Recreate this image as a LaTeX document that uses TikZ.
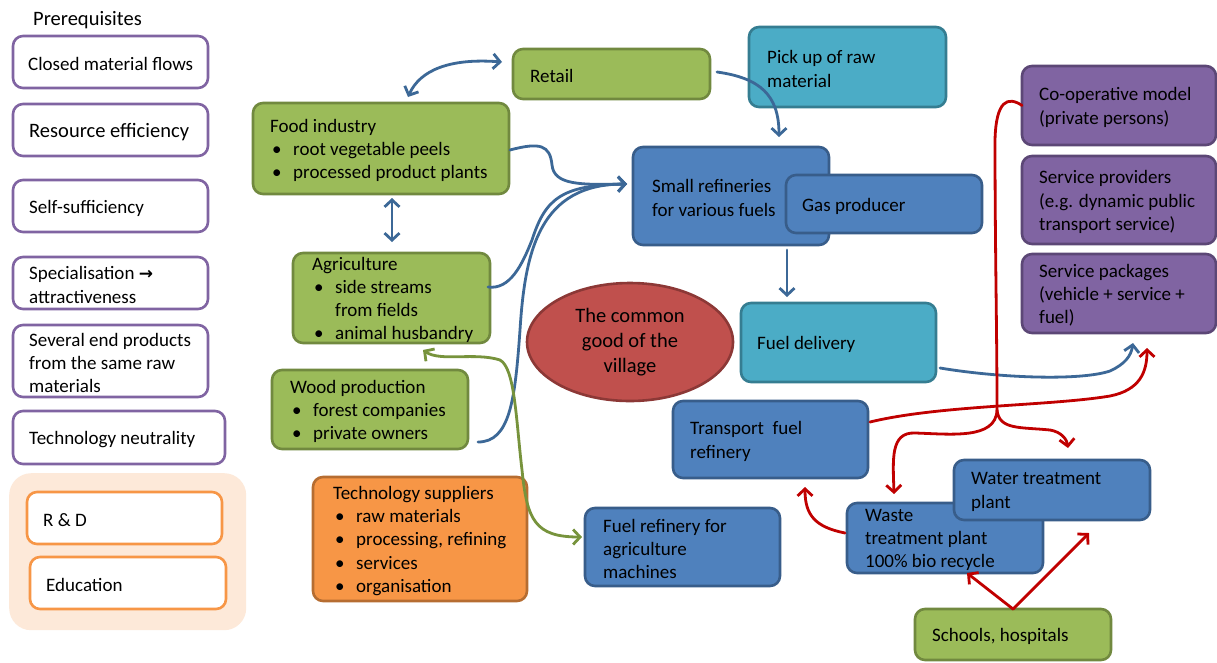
\documentclass[tikz,border=0pt]{standalone}
\usepackage{fontspec}
\setmainfont{Carlito}
\newfontfamily\djv{DejaVu Sans}
\usetikzlibrary{arrows.meta,calc,shapes.geometric}
\definecolor{pu}{HTML}{8064A2}
\definecolor{puD}{HTML}{5C4776}
\definecolor{gr}{HTML}{9BBB59}
\definecolor{grD}{HTML}{71893F}
\definecolor{te}{HTML}{4BACC6}
\definecolor{teD}{HTML}{357D91}
\definecolor{bl}{HTML}{4F81BD}
\definecolor{blD}{HTML}{385D8A}
\definecolor{ellF}{HTML}{C0504D}
\definecolor{ellD}{HTML}{8C3836}
\definecolor{orF}{HTML}{F79646}
\definecolor{orD}{HTML}{B66D31}
\definecolor{pe}{HTML}{FDE9D9}
\definecolor{cBlue}{HTML}{3C6897}
\definecolor{cRed}{HTML}{C00000}
\definecolor{cGreen}{HTML}{77933C}
\newcommand{\bitem}{\hspace*{2pt}\makebox[21pt][l]{\textbullet}}
\begin{document}
\begin{tikzpicture}[x=1pt,y=-1pt,
  every node/.style={font=\fontsize{19}{23.2}\selectfont},
  boxbase/.style={line width=2.6pt, rounded corners=10pt, anchor=north west, inner sep=0pt, outer sep=0pt},
  pbox/.style={boxbase, draw=pu, fill=white},
  obox/.style={boxbase, draw=orF, fill=white},
  gbox/.style={boxbase, draw=grD, fill=gr},
  tbox/.style={boxbase, draw=teD, fill=te},
  bbox/.style={boxbase, draw=blD, fill=bl},
  vbox/.style={boxbase, draw=puD, fill=pu},
  orbox/.style={boxbase, draw=orD, fill=orF},
  lbl/.style={anchor=west, align=left, inner sep=0pt, text=black, yshift=-2pt},
  big/.style={font=\fontsize{20.5}{25}\selectfont},
  >={Straight Barb[length=7pt,width=15pt]},
  lineB/.style={draw=cBlue, line width=2.8pt, line cap=round},
  lineR/.style={draw=cRed, line width=2.8pt, line cap=round},
  lineG/.style={draw=cGreen, line width=2.8pt, line cap=round}]
\useasboundingbox (0,0) rectangle (1217,662);
\fill[white] (0,0) rectangle (1217,662);

% left column
\node[lbl, big] (prq) at (33,18) {Prerequisites};
\node[pbox, minimum width=195pt, minimum height=52pt] (cmf) at (13,36) {};
\node[lbl] (cmf-t) at ($(cmf.west)+(15,0)$) {Closed material flows};
\node[pbox, minimum width=195pt, minimum height=52pt] (re) at (13,104) {};
\node[lbl, big] (re-t) at ($(re.west)+(16,0)$) {Resource efficiency};
\node[pbox, minimum width=195pt, minimum height=52pt] (ss) at (13,180) {};
\node[lbl] (ss-t) at ($(ss.west)+(16,0)$) {Self-sufficiency};
\node[pbox, minimum width=195pt, minimum height=52pt] (spec) at (13,257) {};
\node[lbl] (spec-t) at ($(spec.west)+(16,0)$) {Specialisation {\djv\bfseries\fontsize{17}{20}\selectfont →}\\attractiveness};
\node[pbox, minimum width=195pt, minimum height=72pt] (sev) at (13,325) {};
\node[lbl] (sev-t) at ($(sev.west)+(16,0)$) {Several end products\\from the same raw\\materials};
\node[pbox, minimum width=212pt, minimum height=53pt] (tn) at (13,411) {};
\node[lbl] (tn-t) at ($(tn.west)+(16,0)$) {Technology neutrality};
\node[fill=pe, rounded corners=22pt, minimum width=237pt, minimum height=157pt, anchor=north west, inner sep=0pt] (rdbg) at (9,473) {};
\node[obox, minimum width=195pt, minimum height=52pt] (rdb) at (27,492) {};
\node[lbl] (rdb-t) at ($(rdb.west)+(16,0)$) {R \& D};
\node[obox, minimum width=196pt, minimum height=52pt] (edu) at (30,557) {};
\node[lbl] (edu-t) at ($(edu.west)+(16,0)$) {Education};

% green boxes
\node[gbox, minimum width=256pt, minimum height=91pt] (food) at (253,103) {};
\node[lbl] (food-t) at ($(food.west)+(17,0)$) {Food industry\\\bitem root vegetable peels\\\bitem processed product plants};
\node[gbox, minimum width=197pt, minimum height=90pt] (agri) at (293,253) {};
\node[lbl] (agri-t) at ($(agri.west)+(19,0)$) {Agriculture\\\bitem side streams\\\hspace*{23pt}from fields\\\bitem animal husbandry};
\node[gbox, minimum width=196pt, minimum height=79pt] (wood) at (272,370) {};
\node[lbl] (wood-t) at ($(wood.west)+(18,0)$) {Wood production\\\bitem forest companies\\\bitem private owners};
\node[gbox, minimum width=197pt, minimum height=50pt] (retail) at (513,49) {};
\node[lbl] (retail-t) at ($(retail.west)+(17,0)$) {Retail};
\node[gbox, minimum width=196pt, minimum height=51pt] (sch) at (915,609) {};
\node[lbl] (sch-t) at ($(sch.west)+(17,0)$) {Schools, hospitals};

% orange
\node[orbox, minimum width=214pt, minimum height=124pt] (tech) at (313,477) {};
\node[lbl] (tech-t) at ($(tech.west)+(20,0)$) {Technology suppliers\\\bitem raw materials\\\bitem processing, refining\\\bitem services\\\bitem organisation};

% teal
\node[tbox, minimum width=197pt, minimum height=80pt] (pick) at (749,27) {};
\node[lbl] (pick-t) at ($(pick.west)+(18,0)$) {Pick up of raw\\material};
\node[tbox, minimum width=195pt, minimum height=79pt] (fd) at (741,303) {};
\node[lbl] (fd-t) at ($(fd.west)+(16,0)$) {Fuel delivery};

% blue
\node[bbox, minimum width=196pt, minimum height=98pt] (sr) at (633,147) {};
\node[lbl] (sr-t) at ($(sr.west)+(19,0)$) {Small refineries\\for various fuels};
\node[bbox, minimum width=196pt, minimum height=58pt] (gas) at (786,175) {};
\node[lbl] (gas-t) at ($(gas.west)+(16,0)$) {Gas producer};
\node[bbox, minimum width=195pt, minimum height=77pt] (tfr) at (673,401) {};
\node[lbl] (tfr-t) at ($(tfr.west)+(17,0)$) {Transport\ \ fuel\\refinery};
\node[bbox, minimum width=195pt, minimum height=78pt] (frag) at (585,508) {};
\node[lbl] (frag-t) at ($(frag.west)+(18,0)$) {Fuel refinery for\\agriculture\\machines};
\node[bbox, minimum width=196pt, minimum height=70pt] (waste) at (847,503) {};
\node[lbl] (waste-t) at ($(waste.west)+(18,0)$) {Waste\\treatment plant\\100\% bio recycle};
\node[bbox, minimum width=196pt, minimum height=60pt] (water) at (954,460) {};
\node[lbl] (water-t) at ($(water.west)+(17,0)$) {Water treatment\\plant};

% purple right
\node[vbox, minimum width=194pt, minimum height=79pt] (coop) at (1022,66) {};
\node[lbl] (coop-t) at ($(coop.west)+(17,0)$) {Co-operative model\\(private persons)};
\node[vbox, minimum width=194pt, minimum height=88pt] (sp) at (1022,156) {};
\node[lbl] (sp-t) at ($(sp.west)+(17,0)$) {Service providers\\(e.g. dynamic public\\transport service)};
\node[vbox, minimum width=194pt, minimum height=79pt] (pkg) at (1022,254) {};
\node[lbl] (pkg-t) at ($(pkg.west)+(17,0)$) {Service packages\\(vehicle + service +\\fuel)};

% ellipse
\node[ellipse, fill=ellF, draw=ellD, line width=2.6pt, minimum width=206pt, minimum height=118pt, align=center, inner sep=0pt, big] (cgood) at (630,342) {The common\\good of the\\village};

% blue connectors
\draw[lineB, <->] ($(food.north)+(27,-6)$) .. controls (420,70) and (450,58) .. ($(retail.west)+(-11,-12)$);
\draw[lineB, <->] ($(food.south)+(11,4)$) -- ($(agri.north)+(0.5,-11)$);
\draw[lineB, ->] ($(food.east)+(1,1.5)$) .. controls (540,142) and (550,145) .. (552,165) .. controls (554,185) and (580,185) .. ($(sr.west)+(-6,-12)$);
\draw[lineB, ->] ($(agri.east)+(-2,-11)$) .. controls (510,290) and (522,265) .. (532,240) .. controls (545,200) and (560,185) .. ($(sr.west)+(-6,-12)$);
\draw[lineB, ->] ($(wood.east)+(10,32.5)$) .. controls (510,442) and (515,400) .. (520,330) .. controls (525,250) and (540,184) .. ($(sr.west)+(-6,-12)$);
\draw[lineB, ->] ($(retail.east)+(7,-2)$) .. controls (760,78) and (779,95) .. ($(sr.north)+(48,-10)$);
\draw[lineB, ->] ($(sr.south)+(56,5)$) -- ($(fd.north)+(-51.5,-6)$);
\draw[lineB, ->] ($(fd.east)+(4,25.5)$) .. controls (1000,378) and (1080,381) .. (1110,371) .. controls (1125,364) and (1131,356) .. ($(pkg.south)+(14,10)$);

% red connectors
\draw[lineR, ->] ($(tfr.east)+(2,-17.5)$) .. controls (940,405) and (1050,406) .. (1110,396) .. controls (1140,390) and (1147,372) .. ($(pkg.south)+(28,15)$);
\coordinate (jn) at (997,410);
\draw[lineR, ->] (coop.west) .. controls (1008,96) and (996,100) .. (995,140) .. controls (995,250) and (997,330) .. (jn) .. controls (996,440) and (950,434) .. (915,433) .. controls (890,432) and (893,460) .. ($(waste.north)+(-51,-9)$);
\draw[lineR, ->] (jn) .. controls (999,430) and (1020,427) .. (1050,430) .. controls (1062,432) and (1067,440) .. ($(water.north)+(16,-12)$);
\draw[lineR, ->] ($(waste.west)+(-2,-5)$) .. controls (815,527) and (805,515) .. ($(tfr.south)+(34.5,9)$);
\draw[lineR, ->] (sch.north) -- ($(waste.south)+(22,0)$);
\draw[lineR, ->] (sch.north) -- ($(water.south)+(37,13)$);

% green connector
\draw[lineG, <->] ($(agri.south)+(31.5,7)$) .. controls (440,362) and (475,352) .. (500,360) .. controls (515,368) and (516,420) .. (522,470) .. controls (527,520) and (535,537) .. ($(frag.west)+(-3,-10)$);
\end{tikzpicture}
\end{document}
